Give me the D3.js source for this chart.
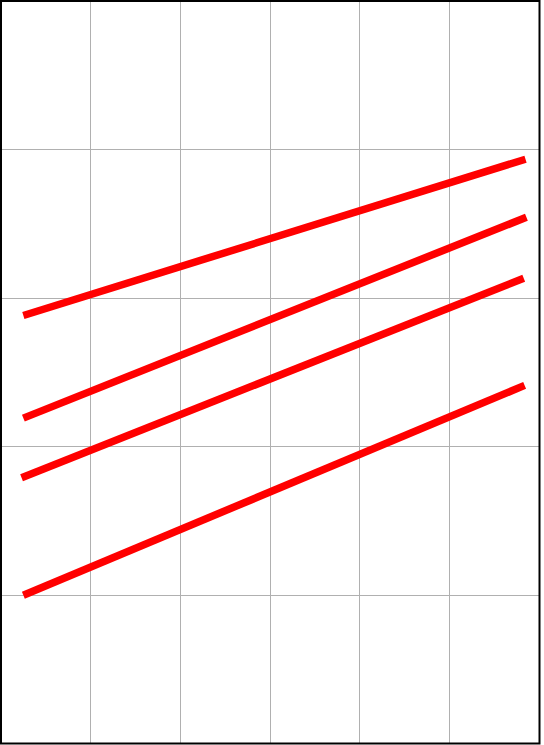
<!DOCTYPE html>
<html><head><meta charset="utf-8">
<script src="https://cdn.jsdelivr.net/npm/d3@7"></script>
<style>html,body{margin:0;padding:0;background:#fff;}svg{display:block;}</style>
</head><body>
<script>
const xTicks = [1, 2, 3, 4, 5];
const yTicks = [1, 2, 3, 4];
const seriesNames = ["A", "B", "C", "D"];
const xStart = [0.26, 0.26, 0.24, 0.26];
const xEnd = [5.85, 5.86, 5.83, 5.84];
const yStart = [2.88, 2.19, 1.79, 1.00];
const yEnd = [3.93, 3.54, 3.13, 2.41];

const W = 544, H = 745;
const svg = d3.select("body").append("svg").attr("width", W).attr("height", H);
const x = d3.scaleLinear().domain([0, 6]).range([0, 539]);
const y = d3.scaleLinear().domain([0, 5]).range([744, 0]);

svg.append("rect").attr("width", W).attr("height", H).attr("fill", "#fff");

const g = svg.append("g");
g.append("g").attr("transform", "translate(0,744)")
  .call(d3.axisBottom(x).tickValues(xTicks).tickSize(-744).tickFormat(""))
  .call(s => s.select(".domain").remove())
  .call(s => s.selectAll("line").attr("stroke", "#b0b0b0").attr("shape-rendering", "crispEdges"));
g.append("g")
  .call(d3.axisLeft(y).tickValues(yTicks).tickSize(-539).tickFormat(""))
  .call(s => s.select(".domain").remove())
  .call(s => s.selectAll("line").attr("stroke", "#b0b0b0").attr("shape-rendering", "crispEdges"));

const data = seriesNames.map((n, i) => [[xStart[i], yStart[i]], [xEnd[i], yEnd[i]]]);
const line = d3.line().x(d => x(d[0])).y(d => y(d[1]));
svg.selectAll("path.series").data(data).join("path")
  .attr("class", "series").attr("d", line)
  .attr("fill", "none").attr("stroke", "#ff0000").attr("stroke-width", 7.5)
  .attr("stroke-linecap", "butt");

svg.append("rect").attr("x", 1).attr("y", 1).attr("width", 538.5).attr("height", 742.5)
  .attr("fill", "none").attr("stroke", "#000").attr("stroke-width", 2);
</script>
</body></html>
